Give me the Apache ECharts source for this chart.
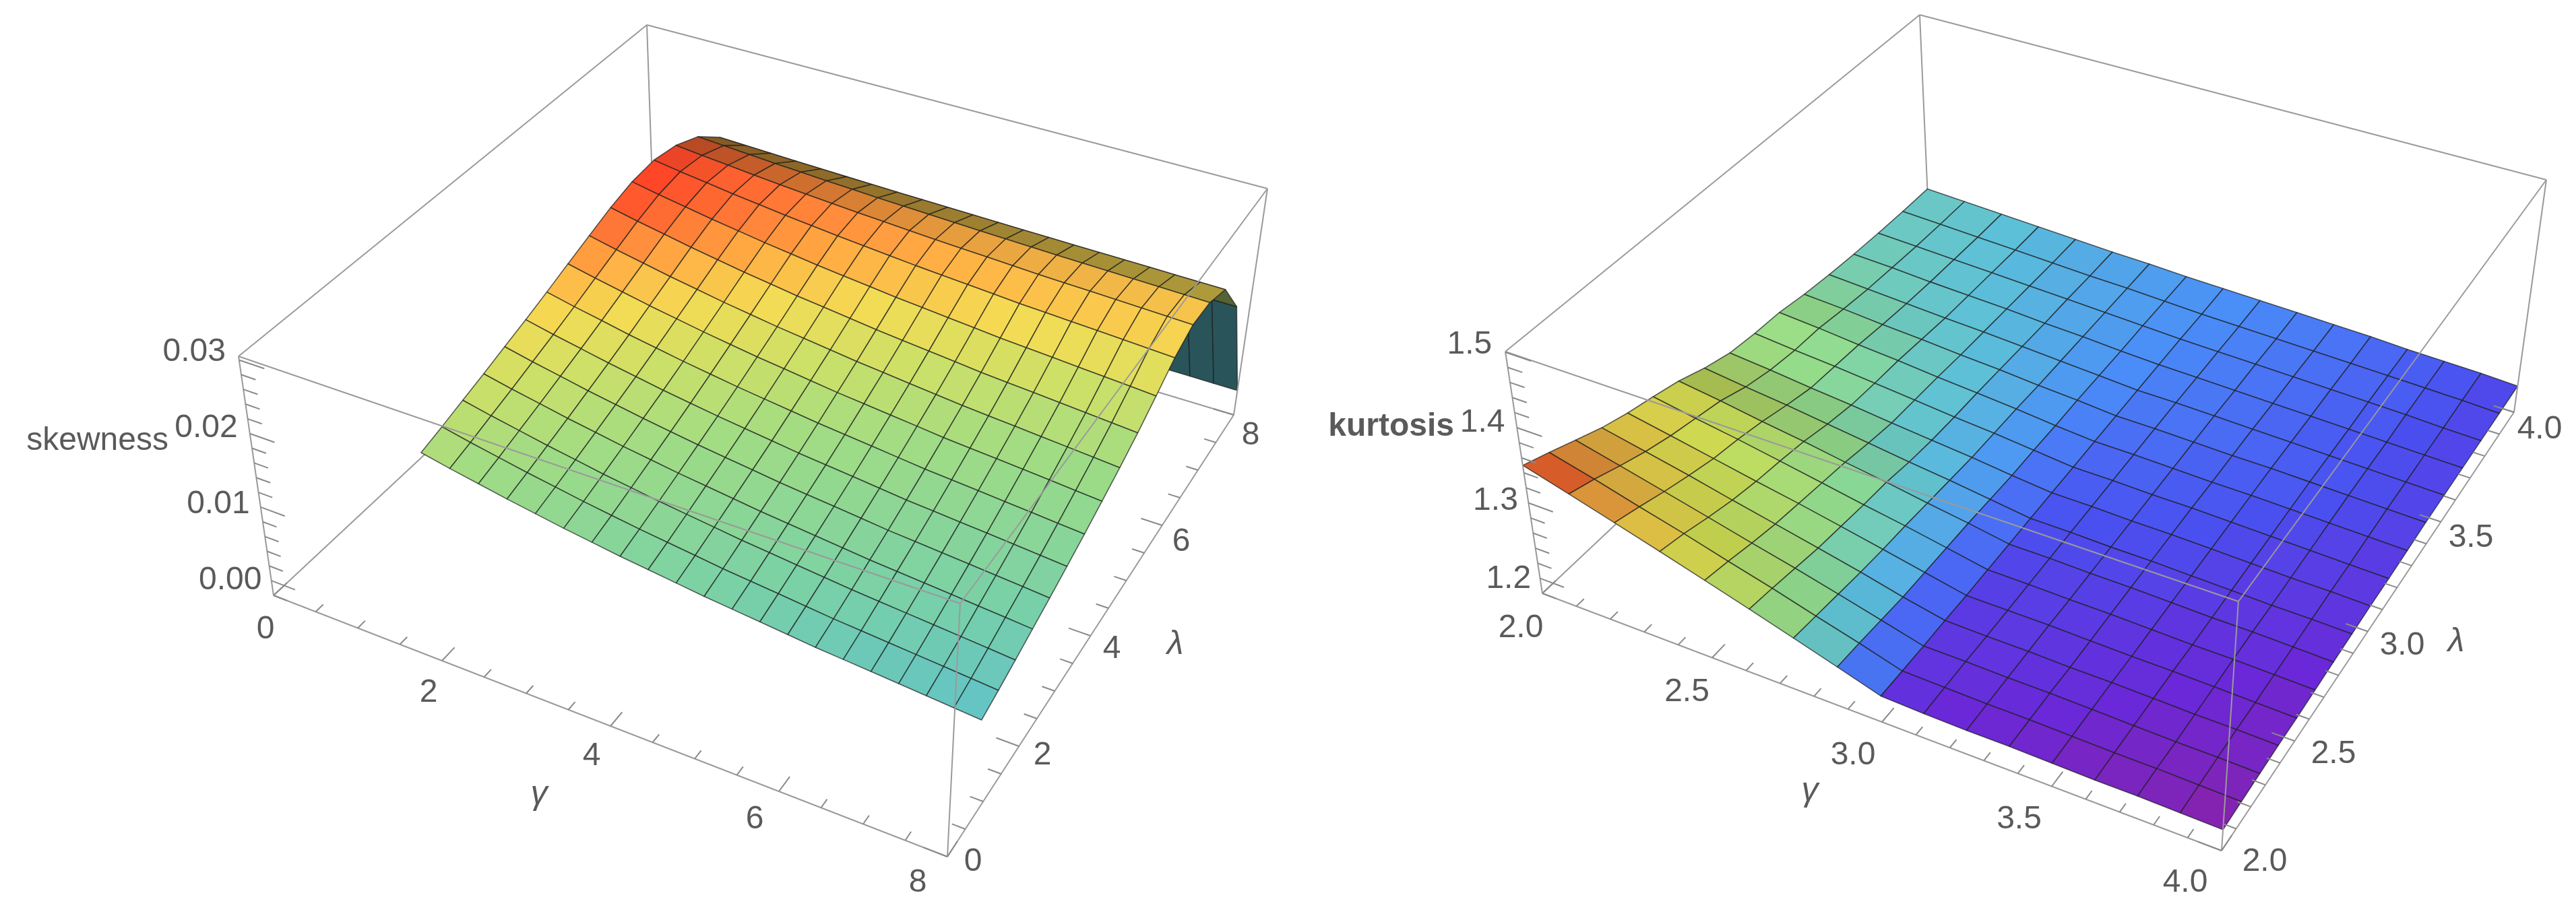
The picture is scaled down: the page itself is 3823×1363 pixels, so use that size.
<!DOCTYPE html>
<html><head><meta charset="utf-8">
<script src="https://cdn.jsdelivr.net/npm/echarts@6/dist/echarts.min.js"></script>
<style>html,body{margin:0;padding:0;background:#fff}#c{width:3823px;height:1363px}</style>
</head><body><div id="c"></div>
<script>
// ---------- DATA ----------
const gammaL = [1.5,1.825,2.15,2.475,2.8,3.125,3.45,3.775,4.1,4.425,4.75,5.075,5.4,5.725,6.05,6.375,6.7,7.025,7.35,7.675,8];
const lambdaL = [0.8,1.25,1.7,2.15,2.6,3.05,3.5,3.95,4.4,4.85,5.3,5.75,6.2,6.65,7.1,7.55,8.0];
// skewness in units of 1e-4; rows: lambda, columns: gamma
const SKEW_UNIT = 1e-4;
const skewE4 = [
[190,181.9,174.7,167.5,161.2,154.9,149.5,144.1,139.6,135.1,130.6,127,123.4,119.8,116.2,113.5,110.8,108.1,105.4,102.7,100],
[198,189.8,182.5,175.2,168.9,162.5,157,151.6,147,142.5,137.9,134.3,130.7,127,123.4,120.6,117.9,115.2,112.5,109.7,107],
[207,198.7,191.4,184,177.6,171.1,165.6,160.1,155.5,150.9,146.3,142.6,138.9,135.2,131.6,128.8,126,123.3,120.5,117.8,115],
[216,207.7,200.4,193,186.6,180.1,174.6,169.1,164.5,159.9,155.3,151.6,147.9,144.2,140.6,137.8,135,132.3,129.5,126.8,124],
[226,217.6,210.2,202.7,196.2,189.7,184.1,178.6,173.9,169.3,164.6,160.9,157.2,153.5,149.7,146.9,144.2,141.4,138.6,135.8,133],
[236,227.6,220.2,212.7,206.2,199.7,194.1,188.6,183.9,179.3,174.6,170.9,167.2,163.5,159.7,156.9,154.2,151.4,148.6,145.8,143],
[247,238.6,231.2,223.7,217.2,210.7,205.1,199.6,194.9,190.3,185.6,181.9,178.2,174.5,170.7,167.9,165.2,162.4,159.6,156.8,154],
[259,250.6,243.2,235.7,229.2,222.7,217.1,211.6,206.9,202.3,197.6,193.9,190.2,186.5,182.7,179.9,177.2,174.4,171.6,168.8,166],
[271,262.7,255.4,248,241.6,235.1,229.6,224.1,219.5,214.9,210.3,206.6,202.9,199.2,195.6,192.8,190,187.3,184.5,181.8,179],
[283,275,267.9,260.7,254.5,248.3,242.9,237.6,233.2,228.7,224.3,220.7,217.1,213.6,210,207.3,204.7,202,199.3,196.7,194],
[292,284.8,278.4,272,266.4,260.8,256,251.2,247.2,243.2,239.2,236,232.8,229.6,226.4,224,221.6,219.2,216.8,214.4,212],
[295,289.3,284.3,279.2,274.8,270.4,266.6,262.9,259.7,256.6,253.4,250.9,248.4,245.9,243.3,241.4,239.6,237.7,235.8,233.9,232],
[288,284.1,280.7,277.2,274.2,271.2,268.6,266.1,263.9,261.8,259.6,257.9,256.2,254.5,252.7,251.4,250.2,248.9,247.6,246.3,245],
[272,269.4,267.1,264.7,262.7,260.7,258.9,257.2,255.8,254.3,252.9,251.7,250.5,249.4,248.2,247.3,246.5,245.6,244.7,243.9,243],
[242,240.7,239.6,238.5,237.5,236.5,235.7,234.9,234.2,233.5,232.8,232.2,231.6,231.1,230.5,230.1,229.7,229.3,228.8,228.4,228],
[175,174.5,174.1,173.7,173.4,173,172.7,172.4,172.2,171.9,171.7,171.5,171.3,171.1,170.9,170.7,170.6,170.4,170.3,170.1,170],
[20,19.5,19.1,18.7,18.4,18,17.7,17.4,17.2,16.9,16.7,16.5,16.3,16.1,15.9,15.7,15.6,15.4,15.3,15.1,15]
];
const gammaTicksL = [0,2,4,6,8];
const lambdaTicksL = [0,2,4,6,8];
const zTicksL = [0.00,0.01,0.02,0.03];
const zTickLabelsL = ['0.00','0.01','0.02','0.03'];

const gammaR = [2,2.125,2.25,2.375,2.5,2.625,2.75,2.875,3,3.125,3.25,3.375,3.5,3.625,3.75,3.875,4];
const lambdaR = [2,2.125,2.25,2.375,2.5,2.625,2.75,2.875,3,3.125,3.25,3.375,3.5,3.625,3.75,3.875,4];
// rows: lambda, columns: gamma
const kurtR = [
[1.350,1.333,1.316,1.299,1.282,1.265,1.248,1.231,1.214,1.212,1.211,1.211,1.210,1.209,1.209,1.208,1.207],
[1.338,1.323,1.307,1.292,1.276,1.261,1.245,1.230,1.214,1.213,1.212,1.212,1.211,1.210,1.210,1.209,1.208],
[1.325,1.311,1.297,1.283,1.269,1.256,1.242,1.228,1.214,1.214,1.213,1.213,1.212,1.211,1.210,1.210,1.209],
[1.312,1.300,1.288,1.275,1.263,1.251,1.239,1.226,1.215,1.214,1.214,1.213,1.213,1.212,1.211,1.211,1.210],
[1.302,1.291,1.280,1.269,1.259,1.248,1.237,1.226,1.215,1.215,1.215,1.214,1.213,1.213,1.212,1.211,1.210],
[1.294,1.284,1.275,1.265,1.255,1.245,1.236,1.226,1.216,1.216,1.215,1.215,1.214,1.213,1.213,1.212,1.211],
[1.285,1.277,1.268,1.260,1.251,1.243,1.234,1.226,1.217,1.217,1.216,1.216,1.215,1.214,1.214,1.213,1.212],
[1.272,1.265,1.259,1.252,1.245,1.238,1.232,1.225,1.218,1.218,1.217,1.217,1.216,1.215,1.214,1.214,1.213],
[1.262,1.257,1.251,1.246,1.240,1.235,1.230,1.224,1.219,1.219,1.218,1.218,1.217,1.216,1.215,1.215,1.214],
[1.258,1.253,1.249,1.244,1.239,1.234,1.230,1.225,1.220,1.220,1.219,1.219,1.218,1.217,1.216,1.215,1.214],
[1.256,1.252,1.247,1.243,1.238,1.234,1.230,1.225,1.221,1.221,1.220,1.219,1.219,1.218,1.217,1.216,1.215],
[1.250,1.247,1.243,1.240,1.236,1.233,1.229,1.226,1.222,1.222,1.221,1.220,1.220,1.219,1.218,1.217,1.216],
[1.246,1.243,1.240,1.237,1.235,1.232,1.229,1.226,1.223,1.223,1.222,1.221,1.220,1.219,1.218,1.217,1.216],
[1.243,1.241,1.238,1.236,1.234,1.231,1.229,1.226,1.224,1.223,1.222,1.221,1.220,1.219,1.218,1.217,1.216],
[1.241,1.239,1.237,1.235,1.233,1.231,1.229,1.227,1.225,1.224,1.223,1.222,1.221,1.220,1.219,1.217,1.216],
[1.240,1.238,1.236,1.234,1.232,1.230,1.229,1.227,1.225,1.224,1.223,1.222,1.221,1.220,1.219,1.218,1.216],
[1.240,1.238,1.236,1.234,1.232,1.230,1.229,1.227,1.226,1.225,1.224,1.223,1.222,1.220,1.219,1.218,1.216]
];
const gammaTicksR = [2.0,2.5,3.0,3.5,4.0];
const lambdaTicksR = [2.0,2.5,3.0,3.5,4.0];
const zTicksR = [1.2,1.3,1.4,1.5];

// ---------- STYLE / GEOMETRY ----------
const FONT = 'Liberation Sans, Arial, sans-serif';
const TXT = '#5a5a5a';
const left = {
  g:[0,8], l:[0,8], z:[-0.002,0.0305],
  base:[[406,884],[1406,1272],[1831,616],[971,357]],
  top:[[354,529],[1425,896],[1881,280],[960,37]],
  gs:gammaL, ls:lambdaL, val:(i,j)=>skewE4[j][i]*SKEW_UNIT,
  stops:[[0,'#1c1240'],[0.004,'#2a3a70'],[0.0095,'#5ec0cc'],[0.013,'#78d0a8'],[0.018,'#a0dc84'],[0.021,'#cce068'],[0.0235,'#f4dc54'],[0.0255,'#ffb044'],[0.0275,'#ff7034'],[0.0295,'#ff3a24']],
  gTicks:gammaTicksL, lTicks:lambdaTicksL, zTicks:zTicksL, zLab:zTickLabelsL,
  gLab:v=>String(v), lLab:v=>String(v),
  gMinor:0.5, lMinor:0.5, zMinor:0.002,
  gOff:[[-12,51],[-44,39]], lOff:[[38,8],[25,31]], zOff:[[-20,-12],[-14,0]],
  gName:[800,1180], lName:[1744,957], zName:{text:'skewness',x:250,y:655,bold:false}
};
const right = {
  g:[2,4], l:[2,4], z:[1.18,1.501],
  base:[[2289,881],[3297,1263],[3731,612],[2863,340]],
  top:[[2234,522],[3322,893],[3779,267],[2849,22]],
  gs:gammaR, ls:lambdaR, val:(i,j)=>kurtR[j][i],
  stops:[[1.207,'#8a22a8'],[1.212,'#6a28d8'],[1.218,'#4a50f0'],[1.225,'#4a8ef8'],[1.235,'#5cc0d8'],[1.25,'#90dc90'],[1.28,'#d8e858'],[1.30,'#f8e050'],[1.325,'#ffa040'],[1.35,'#ff3020']],
  gTicks:gammaTicksR, lTicks:lambdaTicksR, zTicks:zTicksR, zLab:zTicksR.map(v=>v.toFixed(1)),
  gLab:v=>v.toFixed(1), lLab:v=>v.toFixed(1),
  gMinor:0.1, lMinor:0.1, zMinor:0.02,
  gOff:[[-32,52],[-54,48]], lOff:[[64,17],[38,26]], zOff:[[-20,-11],[-13,2]],
  gName:[2686,1175], lName:[3645,953], zName:{text:'kurtosis',x:2158,y:634,bold:true}
};

function bil(q,u,v){
  return [q[0][0]*(1-u)*(1-v)+q[1][0]*u*(1-v)+q[2][0]*u*v+q[3][0]*(1-u)*v,
          q[0][1]*(1-u)*(1-v)+q[1][1]*u*(1-v)+q[2][1]*u*v+q[3][1]*(1-u)*v];
}
function projN(c,u,v,w){
  const b=bil(c.base,u,v), t=bil(c.top,u,v);
  return [b[0]*(1-w)+t[0]*w, b[1]*(1-w)+t[1]*w];
}
function norm(c,g,l,z){return [(g-c.g[0])/(c.g[1]-c.g[0]),(l-c.l[0])/(c.l[1]-c.l[0]),(z-c.z[0])/(c.z[1]-c.z[0])];}
function proj(c,g,l,z){const n=norm(c,g,l,z);return projN(c,n[0],n[1],n[2]);}
function hex(h){return [parseInt(h.slice(1,3),16),parseInt(h.slice(3,5),16),parseInt(h.slice(5,7),16)];}
function cmap(stops,v){
  if(v<=stops[0][0]) return hex(stops[0][1]);
  for(let k=1;k<stops.length;k++){
    if(v<=stops[k][0]){const a=hex(stops[k-1][1]),b=hex(stops[k][1]);const t=(v-stops[k-1][0])/(stops[k][0]-stops[k-1][0]);
      return [a[0]+(b[0]-a[0])*t,a[1]+(b[1]-a[1])*t,a[2]+(b[2]-a[2])*t];}
  }
  return hex(stops[stops.length-1][1]);
}
const LIGHT=(()=>{const v=[0.3,-0.5,1];const m=Math.hypot(...v);return v.map(x=>x/m);})();

function surfaceSeries(c){
  const data=[];
  for(let i=0;i<c.gs.length-1;i++)for(let j=0;j<c.ls.length-1;j++){
    const nu=(c.gs[i]-c.g[0])/(c.g[1]-c.g[0]), nv=(c.ls[j]-c.l[0])/(c.l[1]-c.l[0]);
    data.push([i,j,nv-nu]);
  }
  data.sort((a,b)=>b[2]-a[2]);
  return {type:'custom',coordinateSystem:'none',silent:true,z:2,data:data,
    renderItem:function(p,api){
      const i=api.value(0), j=api.value(1);
      const q=[[i,j],[i+1,j],[i+1,j+1],[i,j+1]];
      const pts=q.map(([a,b])=>proj(c,c.gs[a],c.ls[b],c.val(a,b)));
      const n=q.map(([a,b])=>norm(c,c.gs[a],c.ls[b],c.val(a,b)));
      const d1=[n[2][0]-n[0][0],n[2][1]-n[0][1],n[2][2]-n[0][2]];
      const d2=[n[3][0]-n[1][0],n[3][1]-n[1][1],n[3][2]-n[1][2]];
      let N=[d1[1]*d2[2]-d1[2]*d2[1],d1[2]*d2[0]-d1[0]*d2[2],d1[0]*d2[1]-d1[1]*d2[0]];
      const m=Math.hypot(...N); N=N.map(x=>x/m); if(N[2]<0)N=N.map(x=>-x);
      const dot=N[0]*LIGHT[0]+N[1]*LIGHT[1]+N[2]*LIGHT[2];
      const f=Math.min(1,Math.max(0.45,0.45+0.65*dot));
      const avg=(c.val(i,j)+c.val(i+1,j)+c.val(i+1,j+1)+c.val(i,j+1))/4;
      const col=cmap(c.stops,avg).map(x=>Math.round(x*f));
      const fill='rgb('+col.join(',')+')';
      return {type:'polygon',shape:{points:pts},style:{fill:fill,stroke:'rgba(30,30,30,0.7)',lineWidth:1.6,lineJoin:'round'}};
    }};
}
const CORN={b00:[0,0,0],b10:[1,0,0],b11:[1,1,0],b01:[0,1,0],t00:[0,0,1],t10:[1,0,1],t11:[1,1,1],t01:[0,1,1]};
const EDGES_BACK=[['b00','b01'],['b01','b11'],['b01','t01']];
const EDGES_FRONT=[['b00','b10'],['b10','b11'],['b00','t00'],['b10','t10'],['b11','t11'],['t00','t10'],['t10','t11'],['t11','t01'],['t01','t00']];
function boxSeries(c,edges,z){
  return {type:'custom',coordinateSystem:'none',silent:true,z:z,data:edges.map((e,k)=>[k]),
    renderItem:function(p,api){const e=edges[api.value(0)];
      const a=projN(c,...CORN[e[0]]), b=projN(c,...CORN[e[1]]);
      return {type:'line',shape:{x1:a[0],y1:a[1],x2:b[0],y2:b[1]},style:{stroke:'#9a9a9a',lineWidth:2}};}};
}
function lerp2(o,t){return [o[0][0]+(o[1][0]-o[0][0])*t,o[0][1]+(o[1][1]-o[0][1])*t];}
function tickItems(c){
  const items=[];
  const addAxis=(lo,hi,major,minor,axis)=>{
    const n=Math.round((hi-lo)/minor);
    for(let k=0;k<=n;k++){const v=lo+k*minor;const isMaj=major.some(m=>Math.abs(m-v)<minor*0.01);items.push([axis,v,isMaj?1:0]);}
  };
  addAxis(c.g[0],c.g[1],c.gTicks,c.gMinor,0);
  addAxis(c.l[0],c.l[1],c.lTicks,c.lMinor,1);
  const zlo=Math.ceil(c.z[0]/c.zMinor-1e-6)*c.zMinor;
  const n=Math.floor((c.z[1]-zlo)/c.zMinor+1e-6);
  for(let k=0;k<=n;k++){const v=zlo+k*c.zMinor;const isMaj=c.zTicks.some(m=>Math.abs(m-v)<c.zMinor*0.01);items.push([2,v,isMaj?1:0]);}
  return items;
}
function tickSeries(c){
  return {type:'custom',coordinateSystem:'none',silent:true,z:4,data:tickItems(c),
    renderItem:function(p,api){
      const ax=api.value(0), v=api.value(1), maj=api.value(2);
      const L=maj?0.035:0.02;
      let a,b;
      if(ax===0){const u=norm(c,v,c.l[0],c.z[0])[0];a=projN(c,u,0,0);b=projN(c,u,L,0);}
      else if(ax===1){const w=norm(c,c.g[1],v,c.z[0])[1];a=projN(c,1,w,0);b=projN(c,1-L,w,0);}
      else {const w=norm(c,c.g[0],c.l[0],v)[2];a=projN(c,0,0,w);b=projN(c,L,0,w);}
      return {type:'line',shape:{x1:a[0],y1:a[1],x2:b[0],y2:b[1]},style:{stroke:'#8a8a8a',lineWidth:2}};
    }};
}
function labelSeries(c){
  const items=[];
  c.gTicks.forEach((v,k)=>items.push([0,v,k]));
  c.lTicks.forEach((v,k)=>items.push([1,v,k]));
  c.zTicks.forEach((v,k)=>items.push([2,v,k]));
  return {type:'custom',coordinateSystem:'none',silent:true,z:5,data:items,
    renderItem:function(p,api){
      const ax=api.value(0), v=api.value(1), k=api.value(2);
      let pt,txt,align='center',off;
      if(ax===0){const t=norm(c,v,c.l[0],c.z[0])[0];pt=projN(c,t,0,0);off=lerp2(c.gOff,t);txt=c.gLab(v);}
      else if(ax===1){const t=norm(c,c.g[1],v,c.z[0])[1];pt=projN(c,1,t,0);off=lerp2(c.lOff,t);txt=c.lLab(v);}
      else {const w=norm(c,c.g[0],c.l[0],v)[2];pt=projN(c,0,0,w);off=lerp2(c.zOff,1-w);txt=c.zLab[k];align='right';}
      return {type:'text',x:pt[0]+off[0],y:pt[1]+off[1],style:{text:txt,fill:TXT,font:'48px '+FONT,align:align,verticalAlign:'middle'}};
    }};
}
function nameSeries(c){
  const names=[{t:'γ',x:c.gName[0],y:c.gName[1],a:'center',f:'italic 50px '},{t:'λ',x:c.lName[0],y:c.lName[1],a:'center',f:'italic 50px '},
               {t:c.zName.text,x:c.zName.x,y:c.zName.y,a:'right',f:(c.zName.bold?'bold ':'')+'48px '}];
  return {type:'custom',coordinateSystem:'none',silent:true,z:5,data:names.map((n,k)=>[k]),
    renderItem:function(p,api){const n=names[api.value(0)];
      return {type:'text',x:n.x,y:n.y,style:{text:n.t,fill:TXT,font:n.f+FONT,align:n.a,verticalAlign:'middle'}};}};
}
const series=[];
[left,right].forEach(c=>{
  series.push(boxSeries(c,EDGES_BACK,1));
  series.push(surfaceSeries(c));
  series.push(boxSeries(c,EDGES_FRONT,3));
  series.push(tickSeries(c));
  series.push(labelSeries(c));
  series.push(nameSeries(c));
});
const chart=echarts.init(document.getElementById('c'),null,{renderer:'canvas',width:3823,height:1363});
chart.setOption({backgroundColor:'#ffffff',animation:false,series:series});
</script></body></html>
